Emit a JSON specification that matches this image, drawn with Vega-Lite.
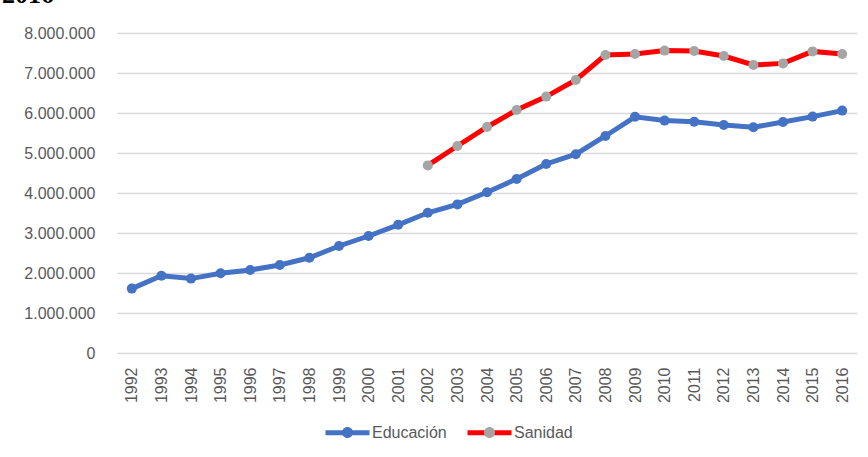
{
  "$schema": "https://vega.github.io/schema/vega-lite/v6.json",
  "width": 740,
  "height": 320,
  "autosize": {"type": "none"},
  "padding": {"left": 117, "top": 33, "right": 11, "bottom": 104},
  "background": "white",
  "title": {
    "text": "2016",
    "anchor": "start",
    "frame": "group",
    "font": "Liberation Serif",
    "fontWeight": "bold",
    "fontSize": 26,
    "color": "#000000",
    "baseline": "alphabetic",
    "offset": 26,
    "dy": 30,
    "dx": -115
  },
  "config": {
    "locale": {"number": {"decimal": ",", "thousands": ".", "grouping": [3], "currency": ["", " €"]}},
    "view": {"stroke": null},
    "font": "Liberation Sans"
  },
  "data": {
    "values": [
      {"year": "1992", "serie": "Educación", "value": 1610000},
      {"year": "1993", "serie": "Educación", "value": 1930000},
      {"year": "1994", "serie": "Educación", "value": 1860000},
      {"year": "1995", "serie": "Educación", "value": 1995000},
      {"year": "1996", "serie": "Educación", "value": 2075000},
      {"year": "1997", "serie": "Educación", "value": 2200000},
      {"year": "1998", "serie": "Educación", "value": 2380000},
      {"year": "1999", "serie": "Educación", "value": 2675000},
      {"year": "2000", "serie": "Educación", "value": 2925000},
      {"year": "2001", "serie": "Educación", "value": 3205000},
      {"year": "2002", "serie": "Educación", "value": 3505000},
      {"year": "2003", "serie": "Educación", "value": 3715000},
      {"year": "2004", "serie": "Educación", "value": 4020000},
      {"year": "2005", "serie": "Educación", "value": 4350000},
      {"year": "2006", "serie": "Educación", "value": 4725000},
      {"year": "2007", "serie": "Educación", "value": 4970000},
      {"year": "2008", "serie": "Educación", "value": 5425000},
      {"year": "2009", "serie": "Educación", "value": 5905000},
      {"year": "2010", "serie": "Educación", "value": 5810000},
      {"year": "2011", "serie": "Educación", "value": 5780000},
      {"year": "2012", "serie": "Educación", "value": 5700000},
      {"year": "2013", "serie": "Educación", "value": 5645000},
      {"year": "2014", "serie": "Educación", "value": 5775000},
      {"year": "2015", "serie": "Educación", "value": 5910000},
      {"year": "2016", "serie": "Educación", "value": 6060000},
      {"year": "2002", "serie": "Sanidad", "value": 4690000},
      {"year": "2003", "serie": "Sanidad", "value": 5175000},
      {"year": "2004", "serie": "Sanidad", "value": 5650000},
      {"year": "2005", "serie": "Sanidad", "value": 6075000},
      {"year": "2006", "serie": "Sanidad", "value": 6410000},
      {"year": "2007", "serie": "Sanidad", "value": 6825000},
      {"year": "2008", "serie": "Sanidad", "value": 7450000},
      {"year": "2009", "serie": "Sanidad", "value": 7475000},
      {"year": "2010", "serie": "Sanidad", "value": 7560000},
      {"year": "2011", "serie": "Sanidad", "value": 7550000},
      {"year": "2012", "serie": "Sanidad", "value": 7425000},
      {"year": "2013", "serie": "Sanidad", "value": 7200000},
      {"year": "2014", "serie": "Sanidad", "value": 7240000},
      {"year": "2015", "serie": "Sanidad", "value": 7540000},
      {"year": "2016", "serie": "Sanidad", "value": 7475000}
    ]
  },
  "encoding": {
    "x": {
      "field": "year",
      "type": "ordinal",
      "scale": {"type": "point", "padding": 0.5},
      "axis": {
        "title": null,
        "labelAngle": -90,
        "labelFontSize": 16,
        "labelColor": "#595959",
        "domain": false,
        "ticks": false,
        "tickSize": 0,
        "labelPadding": 14,
        "grid": false
      }
    },
    "y": {
      "field": "value",
      "type": "quantitative",
      "scale": {"domain": [0, 8000000]},
      "axis": {
        "title": null,
        "values": [0, 1000000, 2000000, 3000000, 4000000, 5000000, 6000000, 7000000, 8000000],
        "format": ",d",
        "labelFontSize": 16,
        "labelColor": "#595959",
        "domain": false,
        "ticks": false,
        "tickSize": 0,
        "labelPadding": 22,
        "gridColor": "#d9d9d9",
        "gridWidth": 1.3
      }
    }
  },
  "layer": [
    {
      "mark": {"type": "line", "strokeWidth": 5},
      "encoding": {
        "stroke": {
          "field": "serie",
          "type": "nominal",
          "scale": {"range": ["#4472C4", "#FF0000"]},
          "legend": {
            "orient": "none",
            "legendX": 206,
            "legendY": 375,
            "direction": "horizontal",
            "title": null,
            "padding": 0,
            "symbolType": "M-1,0L1,0",
            "symbolSize": 1936,
            "symbolStrokeWidth": 5,
            "labelFontSize": 16,
            "labelColor": "#595959",
            "labelOffset": 0,
            "columnPadding": 10,
            "encode": {"symbols": {"update": {"size": {"value": 1936}, "strokeWidth": {"value": 5}}}}
          }
        }
      }
    },
    {
      "mark": {"type": "point", "filled": true, "size": 100, "opacity": 1},
      "encoding": {
        "fill": {
          "field": "serie",
          "type": "nominal",
          "scale": {"domain": ["Educación", "Sanidad"], "range": ["#4472C4", "#A5A5A5"]},
          "legend": {
            "orient": "none",
            "legendX": 206,
            "legendY": 375,
            "direction": "horizontal",
            "title": null,
            "padding": 0,
            "zindex": 1,
            "symbolType": "M-1,0M1,0M0.25,0A0.25,0.25,0,1,1,-0.25,0A0.25,0.25,0,1,1,0.25,0Z",
            "symbolSize": 1936,
            "symbolStrokeWidth": 5,
            "symbolStrokeColor": "transparent",
            "symbolOpacity": 1,
            "labelFontSize": 16,
            "labelColor": "#595959",
            "labelOpacity": 0,
            "labelOffset": 0,
            "columnPadding": 10,
            "encode": {"symbols": {"update": {"size": {"value": 1936}, "strokeWidth": {"value": 5}, "stroke": {"value": "transparent"}, "shape": {"value": "M-1,0M1,0M0.25,0A0.25,0.25,0,1,1,-0.25,0A0.25,0.25,0,1,1,0.25,0Z"}}}}
          }
        }
      }
    }
  ]
}
